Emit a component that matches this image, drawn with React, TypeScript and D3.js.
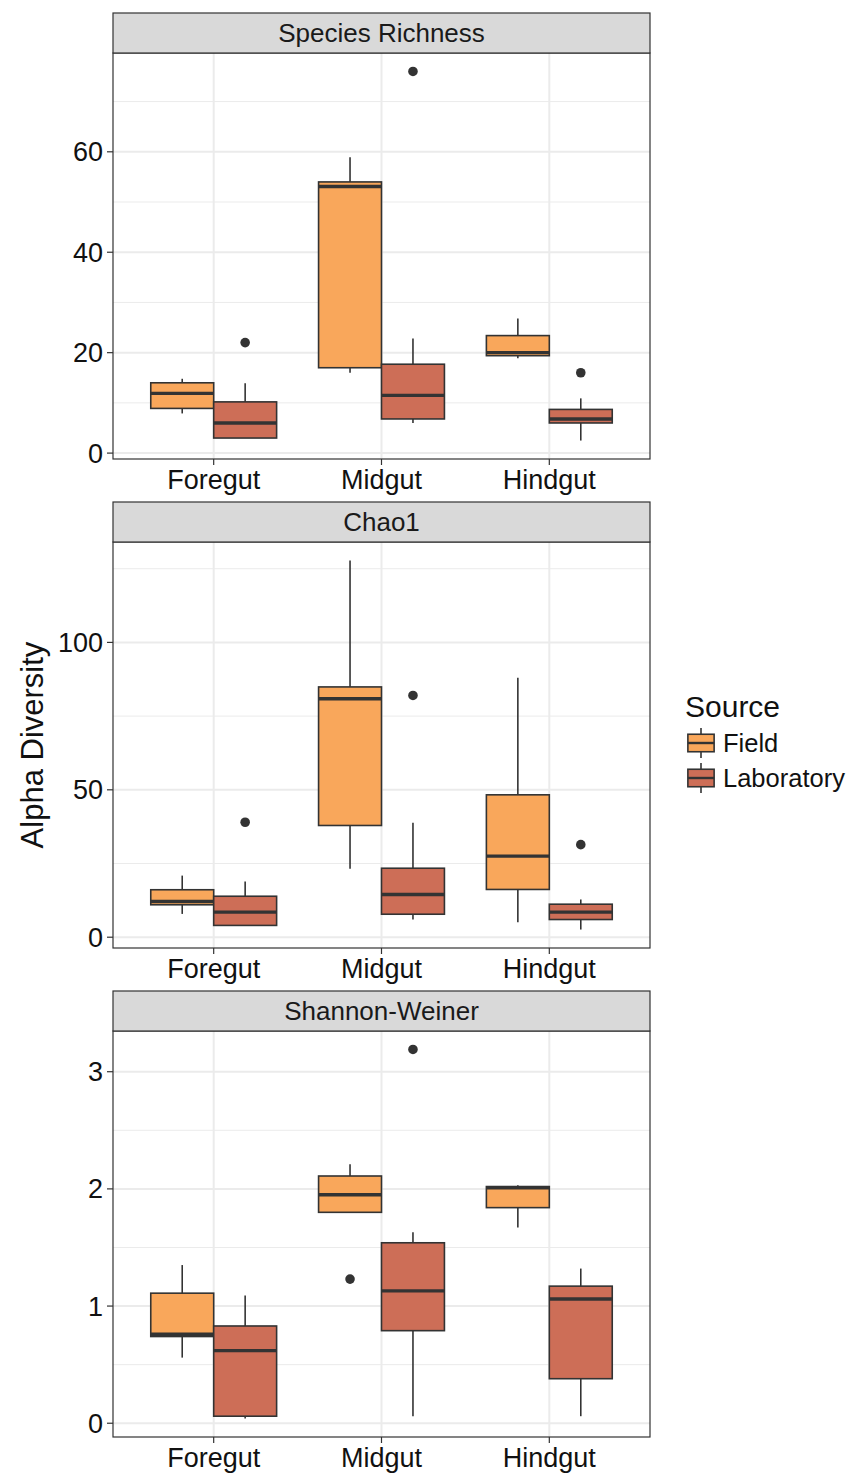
import * as d3 from "d3";

const categories = ["Foregut", "Midgut", "Hindgut"];
const sources = ["Field", "Laboratory"];
const facets = ["Species Richness", "Chao1", "Shannon-Weiner"];
const colors = ["#F9A75B", "#CD6E57"];

// [lower whisker, q1, median, q3, upper whisker] for Foregut F, Foregut L, Midgut F, Midgut L, Hindgut F, Hindgut L
const richnessStats = [
  [7.9, 8.9, 11.9, 14.0, 14.8],
  [3.0, 3.0, 6.0, 10.2, 13.9],
  [16.0, 17.0, 53.1, 54.0, 58.9],
  [6.0, 6.8, 11.5, 17.7, 22.8],
  [18.9, 19.4, 20.0, 23.4, 26.8],
  [2.5, 6.0, 6.8, 8.7, 10.9],
];
const richnessOutliers = [[], [22], [], [76], [], [16]];

const chaoStats = [
  [7.9, 11.0, 12.1, 16.1, 20.9],
  [4.0, 4.0, 8.5, 13.9, 18.9],
  [23.2, 37.9, 80.9, 84.9, 127.8],
  [6.0, 7.8, 14.5, 23.4, 38.8],
  [5.1, 16.2, 27.5, 48.3, 88.0],
  [2.6, 6.0, 8.5, 11.2, 12.8],
];
const chaoOutliers = [[], [39], [], [82], [], [31.4]];

const shannonStats = [
  [0.56, 0.74, 0.76, 1.11, 1.35],
  [0.04, 0.06, 0.62, 0.83, 1.09],
  [1.8, 1.8, 1.95, 2.11, 2.21],
  [0.06, 0.79, 1.13, 1.54, 1.63],
  [1.67, 1.84, 2.01, 2.02, 2.03],
  [0.06, 0.38, 1.06, 1.17, 1.32],
];
const shannonOutliers = [[], [], [1.23], [3.19], [], []];

const majorTicks = [
  [0, 20, 40, 60],
  [0, 50, 100],
  [0, 1, 2, 3],
];
const minorTicks = [
  [10, 30, 50, 70],
  [25, 75, 125],
  [0.5, 1.5, 2.5],
];

const allStats = [richnessStats, chaoStats, shannonStats];
const allOutliers = [richnessOutliers, chaoOutliers, shannonOutliers];

const W = 851;
const H = 1474;
const FONT = "'Liberation Sans', Arial, Helvetica, sans-serif";
const left = 113;
const right = 650;
const firstTop = 13;
const facetStep = 489;
const stripH = 40;
const plotH = 406;

const x = d3.scalePoint<string>().domain(categories).range([left, right]).padding(0.6);
const step = x.step();
const boxW = step * 0.375;

const Facet = ({ idx }: { idx: number }) => {
  const stripTop = firstTop + idx * facetStep;
  const top = stripTop + stripH;
  const bottom = top + plotH;
  const stats = allStats[idx];
  const outliers = allOutliers[idx];
  const vals = stats.flat().concat(outliers.flat());
  const [lo, hi] = d3.extent(vals) as [number, number];
  const pad = (hi - lo) * 0.05;
  const y = d3.scaleLinear().domain([lo - pad, hi + pad]).range([bottom, top]);

  const groups = categories.flatMap((c) => sources.map((s, si) => ({ c, si })));

  return (
    <g>
      {/* grid */}
      {minorTicks[idx].map((t) => (
        <line key={"mi" + t} x1={left} x2={right} y1={y(t)} y2={y(t)} stroke="#EBEBEB" strokeWidth={1} />
      ))}
      {majorTicks[idx].map((t) => (
        <line key={"ma" + t} x1={left} x2={right} y1={y(t)} y2={y(t)} stroke="#EBEBEB" strokeWidth={2} />
      ))}
      {categories.map((c) => (
        <line key={"v" + c} x1={x(c)} x2={x(c)} y1={top} y2={bottom} stroke="#EBEBEB" strokeWidth={2} />
      ))}

      {/* boxes */}
      {groups.map((g, i) => {
        const [wl, q1, med, q3, wh] = stats[i];
        const cx = (x(g.c) as number) + (g.si === 0 ? -1 : 1) * boxW / 2;
        return (
          <g key={i}>
            <line x1={cx} x2={cx} y1={y(q3)} y2={y(wh)} stroke="#333" strokeWidth={1.6} />
            <line x1={cx} x2={cx} y1={y(q1)} y2={y(wl)} stroke="#333" strokeWidth={1.6} />
            <rect
              x={cx - boxW / 2}
              y={y(q3)}
              width={boxW}
              height={y(q1) - y(q3)}
              fill={colors[g.si]}
              stroke="#333"
              strokeWidth={1.6}
            />
            <line x1={cx - boxW / 2} x2={cx + boxW / 2} y1={y(med)} y2={y(med)} stroke="#333" strokeWidth={3.4} />
            {outliers[i].map((o, j) => (
              <circle key={j} cx={cx} cy={y(o)} r={4.8} fill="#333" />
            ))}
          </g>
        );
      })}

      {/* border and strip */}
      <rect x={left} y={top} width={right - left} height={plotH} fill="none" stroke="#333" strokeWidth={1.2} />
      <rect x={left} y={stripTop} width={right - left} height={stripH} fill="#D9D9D9" stroke="#333" strokeWidth={1.2} />
      <text x={(left + right) / 2} y={stripTop + 29} textAnchor="middle" fontSize={26} fill="#1A1A1A" fontFamily={FONT}>
        {facets[idx]}
      </text>

      {/* y axis */}
      {majorTicks[idx].map((t) => (
        <g key={"yt" + t}>
          <line x1={left - 6} x2={left} y1={y(t)} y2={y(t)} stroke="#333" strokeWidth={1.2} />
          <text x={left - 10} y={y(t) + 9.5} textAnchor="end" fontSize={27} fill="#111" fontFamily={FONT}>
            {t}
          </text>
        </g>
      ))}

      {/* x axis */}
      {categories.map((c) => (
        <g key={"xt" + c}>
          <line x1={x(c)} x2={x(c)} y1={bottom} y2={bottom + 6} stroke="#333" strokeWidth={1.2} />
          <text x={x(c)} y={bottom + 30} textAnchor="middle" fontSize={27} fill="#111" fontFamily={FONT}>
            {c}
          </text>
        </g>
      ))}
    </g>
  );
};

const Legend = () => {
  const keyX = 701;
  const keyYs = [743, 778];
  const k = 35;
  return (
    <g>
      <text x={685} y={717} fontSize={30} fill="#111" fontFamily={FONT}>
        Source
      </text>
      {sources.map((s, i) => {
        const cy = keyYs[i];
        return (
          <g key={s}>
            <line x1={keyX} x2={keyX} y1={cy - k * 0.43} y2={cy + k * 0.43} stroke="#333" strokeWidth={1.6} />
            <rect
              x={keyX - k * 0.375}
              y={cy - k * 0.25}
              width={k * 0.75}
              height={k * 0.5}
              fill={colors[i]}
              stroke="#333"
              strokeWidth={1.6}
            />
            <line x1={keyX - k * 0.375} x2={keyX + k * 0.375} y1={cy} y2={cy} stroke="#333" strokeWidth={2.4} />
            <text x={723} y={cy + 9} fontSize={25.5} fill="#111" fontFamily={FONT}>
              {s}
            </text>
          </g>
        );
      })}
    </g>
  );
};

export default function App() {
  return (
    <div style={{ position: "absolute", left: 0, top: 0 }}>
      <svg width={W} height={H} style={{ display: "block", background: "#fff" }}>
        <rect width={W} height={H} fill="#fff" />
        {facets.map((f, i) => (
          <Facet key={f} idx={i} />
        ))}
        <text
          transform={`translate(43, 745) rotate(-90)`}
          textAnchor="middle"
          fontSize={31}
          fill="#111"
          fontFamily={FONT}
        >
          Alpha Diversity
        </text>
        <Legend />
      </svg>
    </div>
  );
}
